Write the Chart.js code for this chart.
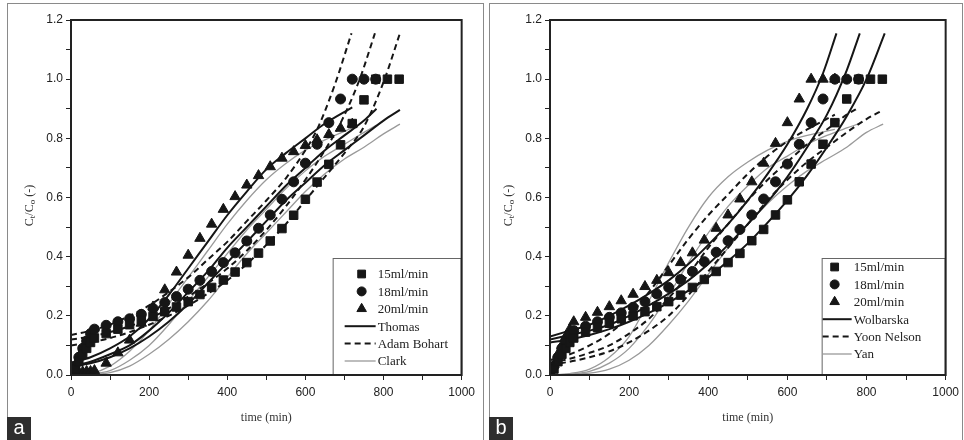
<!DOCTYPE html>
<html>
<head>
<meta charset="utf-8">
<script src="https://cdn.jsdelivr.net/npm/chart.js@4.4.0/dist/chart.umd.min.js"></script>
<style>
body { margin: 0; background: #fff; width: 964px; height: 440px; overflow: hidden; position: relative; }
.frame { position: absolute; top: 3px; height: 440px; border: 1px solid #8a8a8a; border-bottom: none; box-sizing: border-box; }
canvas { position: absolute; top: 5px; }
.tag { position: absolute; top: 417px; width: 24px; height: 23px; background: #2e2e2e; color: #fff;
       font: 20px Arial, "Liberation Sans", sans-serif; line-height: 20px; text-align: center; }
</style>
</head>
<body>
<div class="frame" style="left:7px;width:477px"></div>
<div class="frame" style="left:489px;width:474px"></div>
<canvas id="chartA" width="472" height="432" style="left:8px"></canvas>
<canvas id="chartB" width="477" height="432" style="left:487px"></canvas>
<div class="tag" style="left:7px">a</div>
<div class="tag" style="left:489px">b</div>
<script>
// sampling times (min)
var tFlow15 = [0,10,20,30,40,50,60,90,120,150,180,210,240,270,300,330,360,390,420,450,480,510,540,570,600,630,660,690,720,750,780,810,840];
var tFlow18 = [0,10,20,30,40,50,60,90,120,150,180,210,240,270,300,330,360,390,420,450,480,510,540,570,600,630,660,690,720,750,780];
var tFlow20 = [0,10,20,30,40,50,60,90,120,150,180,210,240,270,300,330,360,390,420,450,480,510,540,570,600,630,660,690,720];

// panel a measured Ct/Co
var a15 = [0,0.02,0.045,0.07,0.09,0.11,0.125,0.14,0.155,0.17,0.185,0.198,0.214,0.23,0.248,0.272,0.296,0.321,0.348,0.38,0.412,0.453,0.495,0.54,0.594,0.652,0.712,0.778,0.85,0.93,1,1,1];
var a18 = [0,0.03,0.06,0.09,0.115,0.14,0.155,0.168,0.18,0.19,0.205,0.225,0.245,0.265,0.29,0.32,0.35,0.38,0.413,0.453,0.496,0.541,0.594,0.653,0.716,0.78,0.853,0.933,1,1,1];
var a20 = [0,0.005,0.01,0.01,0.012,0.012,0.015,0.04,0.075,0.118,0.175,0.23,0.288,0.348,0.405,0.462,0.51,0.56,0.603,0.642,0.674,0.704,0.733,0.755,0.776,0.795,0.813,0.834,0.848];

// panel b measured Ct/Co
var b15 = [0,0.02,0.045,0.07,0.09,0.11,0.125,0.145,0.16,0.175,0.19,0.2,0.214,0.231,0.248,0.27,0.296,0.323,0.35,0.38,0.411,0.454,0.492,0.541,0.592,0.653,0.713,0.78,0.853,0.933,1,1,1];
var b18 = [0,0.03,0.06,0.09,0.115,0.135,0.15,0.165,0.18,0.195,0.21,0.229,0.248,0.274,0.296,0.323,0.35,0.383,0.415,0.454,0.492,0.541,0.595,0.653,0.713,0.78,0.853,0.933,1,1,1];
var b20 = [0,0.035,0.07,0.1,0.13,0.155,0.18,0.195,0.212,0.231,0.251,0.273,0.299,0.32,0.346,0.38,0.413,0.456,0.496,0.541,0.595,0.653,0.716,0.783,0.853,0.933,1,1,1];

// model curve times
var tFit20 = [0,50,100,150,200,250,300,350,400,450,500,550,600,650,720];
var tFit18 = [0,50,100,150,200,250,300,350,400,450,500,550,600,650,700,750,782];
var tFit15 = [0,50,100,150,200,250,300,350,400,450,500,550,600,650,700,750,800,842];
var tAB20 = [0,50,100,150,200,250,300,350,400,450,500,550,600,630,675,718];
var tAB18 = [0,50,100,150,200,250,300,350,400,450,500,550,600,650,693,739,778];
var tWo20 = [0,50,100,150,200,250,300,350,400,450,500,550,600,650,690,724];
var tWo18 = [0,50,100,150,200,250,300,350,400,450,500,550,600,650,700,750,783];
var tWo15 = [0,50,100,150,200,250,300,350,400,450,500,550,600,650,700,750,800,846];

// panel a models
var thomas20 = [0.04,0.06,0.09,0.13,0.19,0.27,0.36,0.45,0.54,0.62,0.695,0.75,0.8,0.85,0.905];
var thomas18 = [0.03,0.045,0.07,0.1,0.15,0.21,0.28,0.35,0.43,0.5,0.57,0.64,0.7,0.76,0.81,0.86,0.9];
var thomas15 = [0.03,0.04,0.06,0.09,0.13,0.18,0.24,0.31,0.38,0.45,0.52,0.59,0.65,0.71,0.76,0.81,0.86,0.896];
var adam20 = [0.135,0.15,0.17,0.2,0.235,0.28,0.33,0.39,0.45,0.52,0.59,0.665,0.76,0.83,0.98,1.155];
var adam18 = [0.12,0.13,0.145,0.165,0.19,0.225,0.265,0.31,0.36,0.42,0.49,0.57,0.66,0.76,0.86,1.0,1.155];
var adam15 = [0.1,0.11,0.125,0.145,0.17,0.2,0.235,0.275,0.32,0.375,0.44,0.51,0.59,0.67,0.75,0.84,0.99,1.155];
var clark20 = [0,0.005,0.03,0.08,0.15,0.24,0.33,0.42,0.51,0.59,0.66,0.715,0.76,0.795,0.835];
var clark18 = [0,0.003,0.015,0.05,0.1,0.17,0.25,0.33,0.41,0.49,0.56,0.63,0.69,0.74,0.78,0.82,0.845];
var clark15 = [0,0.002,0.008,0.03,0.07,0.12,0.18,0.25,0.33,0.41,0.48,0.55,0.62,0.68,0.73,0.77,0.815,0.848];

// panel b models
var wol20 = [0.13,0.15,0.17,0.2,0.235,0.275,0.32,0.375,0.44,0.51,0.59,0.68,0.78,0.9,1.02,1.155];
var wol18 = [0.12,0.135,0.15,0.17,0.2,0.235,0.275,0.32,0.375,0.44,0.51,0.585,0.67,0.77,0.88,1.03,1.155];
var wol15 = [0.11,0.12,0.135,0.155,0.18,0.21,0.245,0.285,0.33,0.385,0.445,0.515,0.59,0.675,0.77,0.875,1.0,1.155];
var yoon20 = [0.05,0.07,0.1,0.14,0.2,0.28,0.37,0.46,0.54,0.61,0.68,0.74,0.79,0.83,0.88];
var yoon18 = [0.04,0.055,0.075,0.1,0.14,0.19,0.26,0.34,0.43,0.51,0.59,0.66,0.72,0.78,0.83,0.88,0.905];
var yoon15 = [0.035,0.045,0.06,0.08,0.11,0.15,0.2,0.27,0.35,0.43,0.51,0.59,0.66,0.72,0.77,0.82,0.865,0.896];
var yan20 = [0,0.005,0.02,0.06,0.13,0.25,0.38,0.5,0.6,0.67,0.72,0.76,0.79,0.81,0.83];
var yan18 = [0,0.003,0.012,0.04,0.09,0.17,0.27,0.38,0.48,0.57,0.64,0.7,0.74,0.78,0.81,0.835,0.85];
var yan15 = [0,0.002,0.006,0.02,0.05,0.1,0.17,0.25,0.34,0.43,0.51,0.58,0.64,0.69,0.73,0.77,0.82,0.848];

var flowLabels = ['15ml/min', '18ml/min', '20ml/min'];
var modelsA = ['Thomas', 'Adam Bohart', 'Clark'];
var modelsB = ['Wolbarska', 'Yoon Nelson', 'Yan'];

var INK = '#161616';

function pts(xs, ys) {
    return xs.map(function(x, i) { return { x: x, y: ys[i] }; });
}

function markerSet(label, xs, ys, style, r) {
    return { label: label, data: pts(xs, ys), showLine: false, pointStyle: style, pointRadius: r,
             backgroundColor: INK, borderColor: INK, borderWidth: 1 };
}

function lineSet(label, xs, ys, kind) {
    var ds = { label: label, data: pts(xs, ys), showLine: true, pointRadius: 0, fill: false,
               cubicInterpolationMode: 'monotone', borderColor: INK, borderWidth: 2 };
    if (kind == 'dash') { ds.borderDash = [6, 4]; }
    if (kind == 'thin') { ds.borderColor = '#9a9a9a'; ds.borderWidth = 1.3; }
    return ds;
}

// frame, inset legend and subscripted y title
var panelDecor = {
    id: 'panelDecor',
    afterDatasetsDraw: function(chart, args, L) {
        var ctx = chart.ctx, a = chart.chartArea;
        var ds = chart.data.datasets;
        ctx.save();
        var x0 = a.right - L.width, y0 = a.bottom - L.height;
        ctx.fillStyle = '#fff';
        ctx.fillRect(x0, y0, L.width, L.height);
        ctx.strokeStyle = '#666';
        ctx.lineWidth = 1;
        ctx.strokeRect(x0 + 0.5, y0 + 0.5, L.width - 1, L.height - 1);
        ctx.font = '13px "Liberation Serif", "Times New Roman", serif';
        ctx.textBaseline = 'middle';
        L.items.forEach(function(idx, row) {
            var d = ds[idx];
            var y = y0 + L.rowY0 + row * L.rowStep;
            if (d.showLine) {
                ctx.strokeStyle = d.borderColor;
                ctx.lineWidth = d.borderWidth;
                ctx.setLineDash(d.borderDash || []);
                ctx.beginPath();
                ctx.moveTo(x0 + L.lineX0, y);
                ctx.lineTo(x0 + L.lineX1, y);
                ctx.stroke();
                ctx.setLineDash([]);
            } else {
                ctx.fillStyle = INK;
                ctx.strokeStyle = INK;
                Chart.helpers.drawPoint(ctx, { pointStyle: d.pointStyle, radius: d.pointRadius - 0.5, rotation: 0, borderWidth: 1 },
                    x0 + L.markerX, y);
            }
            ctx.fillStyle = '#222';
            ctx.fillText(d.label, x0 + L.textX, y + 1);
        });
        // plot frame
        ctx.strokeStyle = '#222';
        ctx.lineWidth = 2;
        ctx.strokeRect(a.left, a.top, a.right - a.left, a.bottom - a.top);
        // y title C_t/C_o (-)
        var parts = [['C', 12, 0], ['t', 9, 3], ['/C', 12, 0], ['o', 9, 3], [' (-)', 12, 0]];
        ctx.translate(a.left - 41, (a.top + a.bottom) / 2 + 8);
        ctx.rotate(-Math.PI / 2);
        ctx.fillStyle = '#333';
        var total = 0;
        parts.forEach(function(p) { ctx.font = p[1] + 'px "Liberation Serif", serif'; total += ctx.measureText(p[0]).width; });
        var cx = -total / 2;
        ctx.textAlign = 'left';
        parts.forEach(function(p) {
            ctx.font = p[1] + 'px "Liberation Serif", serif';
            ctx.fillText(p[0], cx, p[2]);
            cx += ctx.measureText(p[0]).width;
        });
        ctx.restore();
    }
};

function makePanel(id, datasets, legendOpts, rightPad) {
    return new Chart(document.getElementById(id), {
        type: 'scatter',
        data: { datasets: datasets },
        options: {
            responsive: false,
            animation: false,
            layout: { padding: { top: 15, right: rightPad, left: 0, bottom: 0 } },
            plugins: { legend: { display: false }, tooltip: { enabled: false }, panelDecor: legendOpts },
            scales: {
                x: {
                    type: 'linear', min: 0, max: 1000,
                    afterFit: function(s) { s.height = 62; },
                    ticks: {
                        stepSize: 100, autoSkip: false, maxTicksLimit: 20, maxRotation: 0, padding: 5,
                        color: '#222', font: { family: 'Arial, "Liberation Sans"', size: 12 },
                        callback: function(v) { return v % 200 === 0 ? String(v) : ''; }
                    },
                    grid: { drawOnChartArea: false, tickLength: 5, tickColor: '#222' },
                    border: { display: true, color: '#222', width: 2 },
                    title: { display: true, text: 'time (min)', color: '#333',
                             font: { family: '"Liberation Serif", serif', size: 12 }, padding: { top: 2, bottom: 12 } }
                },
                y: {
                    min: 0, max: 1.2,
                    afterFit: function(s) { s.width = 63; },
                    ticks: {
                        stepSize: 0.1, autoSkip: false, maxTicksLimit: 20, padding: 3,
                        color: '#222', font: { family: 'Arial, "Liberation Sans"', size: 12 },
                        callback: function(v) { var k = Math.round(v * 10); return k % 2 === 0 ? (k / 10).toFixed(1) : ''; }
                    },
                    grid: { drawOnChartArea: false, tickLength: 5, tickColor: '#222' },
                    border: { display: true, color: '#222', width: 2 }
                }
            }
        },
        plugins: [panelDecor]
    });
}

var setsA = [
    markerSet(flowLabels[0], tFlow15, a15, 'rect', 6),
    markerSet(flowLabels[1], tFlow18, a18, 'circle', 5),
    markerSet(flowLabels[2], tFlow20, a20, 'triangle', 6),
    lineSet(modelsA[0], tFit20, thomas20, 'solid'),
    lineSet(modelsA[0], tFit18, thomas18, 'solid'),
    lineSet(modelsA[0], tFit15, thomas15, 'solid'),
    lineSet(modelsA[1], tAB20, adam20, 'dash'),
    lineSet(modelsA[1], tAB18, adam18, 'dash'),
    lineSet(modelsA[1], tFit15, adam15, 'dash'),
    lineSet(modelsA[2], tFit20, clark20, 'thin'),
    lineSet(modelsA[2], tFit18, clark18, 'thin'),
    lineSet(modelsA[2], tFit15, clark15, 'thin')
];

var setsB = [
    markerSet(flowLabels[0], tFlow15, b15, 'rect', 6),
    markerSet(flowLabels[1], tFlow18, b18, 'circle', 5),
    markerSet(flowLabels[2], tFlow20, b20, 'triangle', 6),
    lineSet(modelsB[0], tWo20, wol20, 'solid'),
    lineSet(modelsB[0], tWo18, wol18, 'solid'),
    lineSet(modelsB[0], tWo15, wol15, 'solid'),
    lineSet(modelsB[1], tFit20, yoon20, 'dash'),
    lineSet(modelsB[1], tFit18, yoon18, 'dash'),
    lineSet(modelsB[1], tFit15, yoon15, 'dash'),
    lineSet(modelsB[2], tFit20, yan20, 'thin'),
    lineSet(modelsB[2], tFit18, yan18, 'thin'),
    lineSet(modelsB[2], tFit15, yan15, 'thin')
];

makePanel('chartA', setsA,
    { width: 129, height: 117, rowY0: 16, rowStep: 17.4, markerX: 29, textX: 45, lineX0: 12, lineX1: 43, items: [0, 1, 2, 3, 6, 9] }, 18);
makePanel('chartB', setsB,
    { width: 124, height: 117, rowY0: 9, rowStep: 17.4, markerX: 13, textX: 32, lineX0: 1, lineX1: 30, items: [0, 1, 2, 3, 6, 9] }, 18);
</script>
</body>
</html>
